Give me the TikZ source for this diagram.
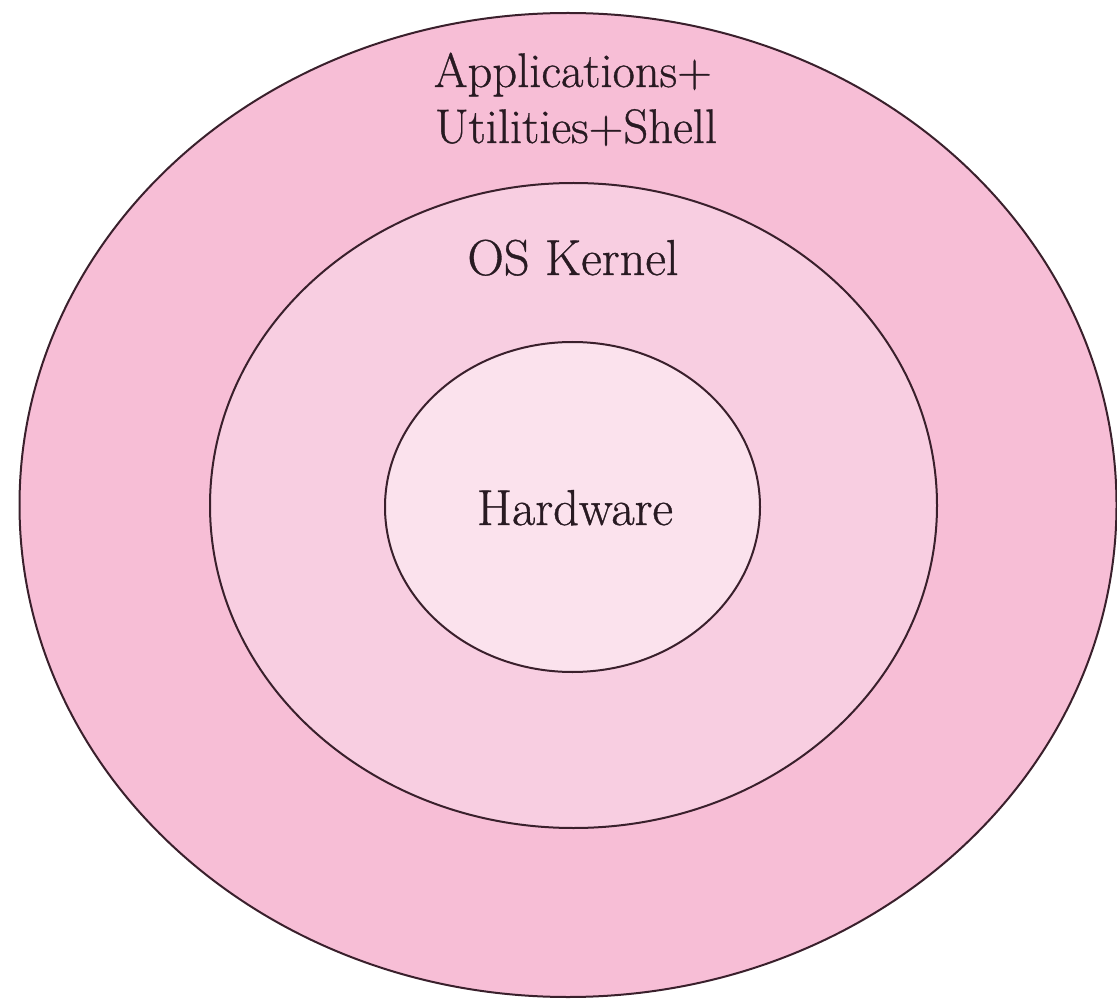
\documentclass[tikz,border=0pt]{standalone}
\usepackage{fontspec}
\newfontfamily\layerfont{Latin Modern Roman}[FakeBold=0.7]
\usetikzlibrary{shapes.geometric}

\definecolor{ringouter}{RGB}{247,190,214}
\definecolor{ringmid}{RGB}{248,206,225}
\definecolor{ringinner}{RGB}{251,226,237}
\definecolor{ringline}{RGB}{58,32,44}
\definecolor{labelink}{RGB}{40,26,34}

\tikzset{
  ring/.style={ellipse, draw=ringline, line width=2pt, inner sep=0pt},
  layerlabel/.style={text=labelink, inner sep=0pt, anchor=base},
}

\begin{document}
\begin{tikzpicture}[x=1pt,y=-1pt]
  \fill[white] (0,0) rectangle (1117,1000);
  \useasboundingbox (0,0) rectangle (1117,1000);

  % three nested layers, outermost first
  \node[ring, fill=ringouter, minimum width=1097pt, minimum height=984pt] (outer) at (568,505) {};
  \node[ring, fill=ringmid, minimum width=727pt, minimum height=645pt] (kernel) at (573.5,505.5) {};
  \node[ring, fill=ringinner, minimum width=375pt, minimum height=330pt] (hw) at (572.5,507) {};

  % layer names
  \node[layerlabel, font=\layerfont\fontsize{48.5}{56}\selectfont] (apps) at (573,87) {Applications+};
  \node[layerlabel, font=\layerfont\fontsize{48.5}{56}\selectfont] (utils) at (576,143) {Utilities+Shell};
  \node[layerlabel, font=\layerfont\fontsize{50.5}{60}\selectfont] (oskernel) at (573,275) {OS Kernel};
  \node[layerlabel, font=\layerfont\fontsize{50.5}{60}\selectfont] (hwlabel) at (575,525) {Hardware};
\end{tikzpicture}
\end{document}
